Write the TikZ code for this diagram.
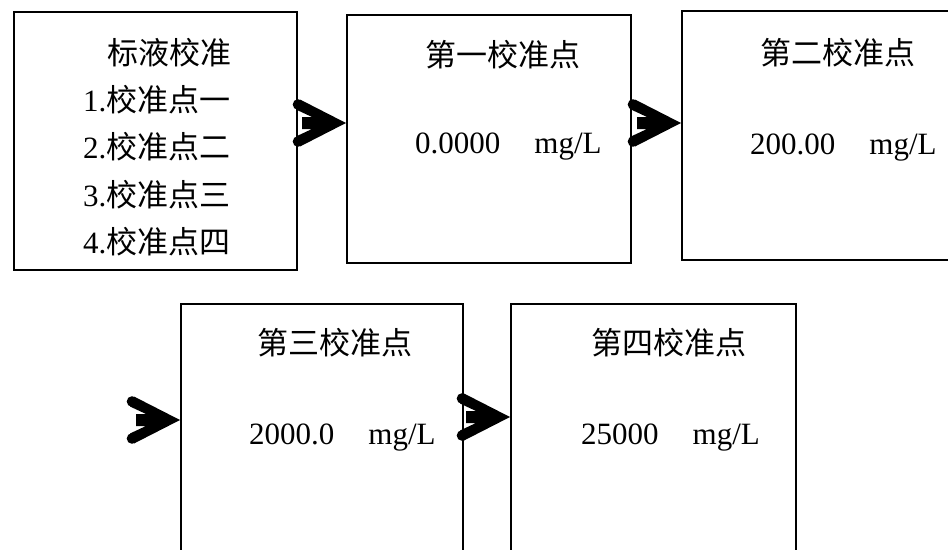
\documentclass[tikz,border=0pt]{standalone}
\usepackage{fontspec}
\setmainfont{Liberation Serif}
\newfontfamily\cjk{Noto Sans CJK SC}
\usetikzlibrary{calc}
\tikzset{
  x=1pt, y=-1pt,
  box/.style={draw, line width=2pt, anchor=north west, inner sep=0pt, rectangle},
  txt/.style={anchor=west, inner sep=0pt, font=\fontsize{31}{36}\selectfont},
  chev/.pic={
    \fill (0,0) -- (-46,23.5) -- (-50,13.5) -- (-34,6) -- (-44,6) -- (-44,-6)
          -- (-34,-6) -- (-50,-13.5) -- (-46,-23.5) -- cycle;
    \fill (-48,18.5) circle (5.3);
    \fill (-48,-18.5) circle (5.3);
  }
}
\newcommand{\unitgap}{\hspace{34pt}}
\begin{document}
\begin{tikzpicture}
\useasboundingbox (0,0) rectangle (948,549);
% boxes
\node[box, minimum width=283pt, minimum height=258pt] (A) at (13,11) {};
\node[box, minimum width=284pt, minimum height=248pt] (B) at (346,14) {};
\node[box, minimum width=290pt, minimum height=249pt] (C) at (681,10) {};
\node[box, minimum width=282pt, minimum height=282pt] (D) at (180,303) {};
\node[box, minimum width=285pt, minimum height=282pt] (E) at (510,303) {};
% box A text
\node[txt] (a0) at (107,53) {\cjk 标液校准};
\node[txt] (a1) at (83,100) {1.{\cjk 校准点一}};
\node[txt] (a2) at (83,147) {2.{\cjk 校准点二}};
\node[txt] (a3) at (83,195) {3.{\cjk 校准点三}};
\node[txt] (a4) at (83,242) {4.{\cjk 校准点四}};
% box B
\node[txt] (b0) at (425,55) {\cjk 第一校准点};
\node[txt] (b1) at (415,147) {0.0000\unitgap mg/L};
% box C
\node[txt] (c0) at (760,53) {\cjk 第二校准点};
\node[txt] (c1) at (750,148) {200.00\unitgap mg/L};
% box D
\node[txt] (d0) at (257,343) {\cjk 第三校准点};
\node[txt] (d1) at (249,438) {2000.0\unitgap mg/L};
% box E
\node[txt] (e0) at (591,343) {\cjk 第四校准点};
\node[txt] (e1) at (581,438) {25000\unitgap mg/L};
% chevron connectors
\pic at ($(B.north west)+(0,109)$) {chev};
\pic at ($(C.north west)+(0,113)$) {chev};
\pic at ($(D.north west)+(0,117)$) {chev};
\pic at ($(E.north west)+(0,114)$) {chev};
\end{tikzpicture}
\end{document}
